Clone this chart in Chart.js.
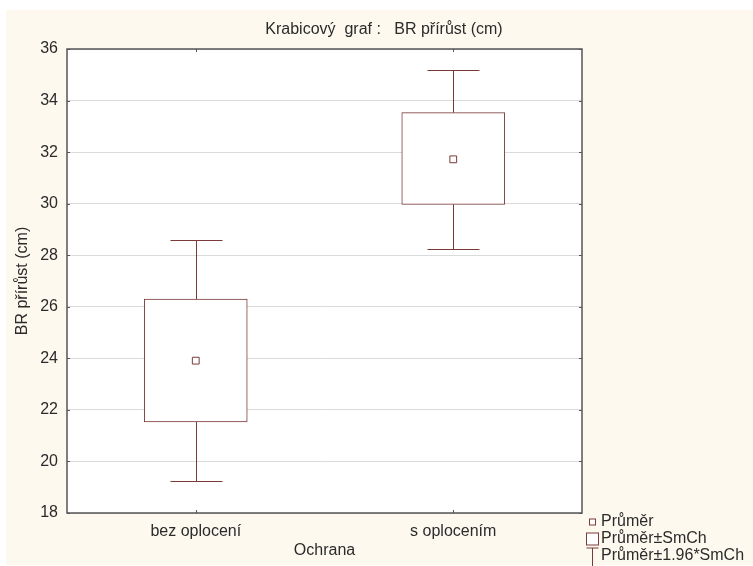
<!DOCTYPE html>
<html>
<head>
<meta charset="utf-8">
<script src="https://cdn.jsdelivr.net/npm/chart.js@4/dist/chart.umd.min.js"></script>
<style>
  html, body { margin: 0; padding: 0; background: #ffffff; }
  #wrap { width: 753px; height: 566px; }
</style>
</head>
<body>
<div id="wrap"><canvas id="c" width="753" height="566"></canvas></div>
<script>
// Groups and summary statistics of BR growth (cm)
const categories = ['bez oplocení', 's oplocením'];
const means  = [23.91, 31.72];   // Průměr
const seLow  = [21.53, 29.97];   // Průměr - SmCh
const seHigh = [26.30, 33.53];   // Průměr + SmCh
const ciLow  = [19.24, 28.23];   // Průměr - 1.96*SmCh
const ciHigh = [28.59, 35.20];   // Průměr + 1.96*SmCh
const yTicks = [18, 20, 22, 24, 26, 28, 30, 32, 34, 36];

const legendLabels = ['Průměr', 'Průměr±SmCh', 'Průměr±1.96*SmCh'];
const titleText = 'Krabicový  graf :   BR přírůst (cm)';

const BOX = '#7a3a3a';
const TXT = '#2b2b2b';
const FRAME = '#555555';
const FONT = 'Arial, "Liberation Sans", sans-serif';
const FS = 16;

const bgPlugin = {
  id: 'bg',
  beforeDraw(chart) {
    const { ctx, chartArea: a } = chart;
    ctx.save();
    ctx.fillStyle = '#ffffff';
    ctx.fillRect(0, 0, chart.width, chart.height);
    ctx.fillStyle = '#fdf9ee';
    ctx.fillRect(6, 10, chart.width - 6, 555);
    ctx.fillStyle = '#ffffff';
    ctx.fillRect(a.left, a.top, a.right - a.left, a.bottom - a.top);
    ctx.restore();
  }
};

const decorPlugin = {
  id: 'decor',
  afterDatasetsDraw(chart) {
    const { ctx, chartArea: a, scales: { x, y } } = chart;
    ctx.save();
    // whiskers: Průměr ± 1.96*SmCh
    ctx.strokeStyle = BOX;
    ctx.lineWidth = 1;
    const capHalf = 26;
    categories.forEach((c, i) => {
      const cx = Math.round(x.getPixelForValue(i)) + 0.5;
      const yTop = Math.round(y.getPixelForValue(ciHigh[i])) + 0.5;
      const yBot = Math.round(y.getPixelForValue(ciLow[i])) + 0.5;
      const bTop = y.getPixelForValue(seHigh[i]);
      const bBot = y.getPixelForValue(seLow[i]);
      ctx.beginPath();
      ctx.moveTo(cx, yTop); ctx.lineTo(cx, bTop);
      ctx.moveTo(cx, bBot); ctx.lineTo(cx, yBot);
      ctx.moveTo(cx - capHalf, yTop); ctx.lineTo(cx + capHalf, yTop);
      ctx.moveTo(cx - capHalf, yBot); ctx.lineTo(cx + capHalf, yBot);
      ctx.stroke();
    });
    // plot frame
    ctx.strokeStyle = FRAME;
    ctx.lineWidth = 1.5;
    ctx.strokeRect(a.left, a.top, a.right - a.left, a.bottom - a.top);
    // inner tick marks
    ctx.lineWidth = 1;
    ctx.beginPath();
    yTicks.forEach(v => {
      const py = Math.round(y.getPixelForValue(v)) + 0.5;
      ctx.moveTo(a.left, py); ctx.lineTo(a.left + 3, py);
      ctx.moveTo(a.right, py); ctx.lineTo(a.right - 3, py);
    });
    categories.forEach((c, i) => {
      const px = Math.round(x.getPixelForValue(i)) + 0.5;
      ctx.moveTo(px, a.top); ctx.lineTo(px, a.top + 3);
      ctx.moveTo(px, a.bottom); ctx.lineTo(px, a.bottom - 3);
    });
    ctx.stroke();
    ctx.restore();
  },
  afterDraw(chart) {
    const { ctx } = chart;
    ctx.save();
    ctx.fillStyle = TXT;
    ctx.font = FS + 'px ' + FONT;
    ctx.textBaseline = 'middle';
    // title
    ctx.textAlign = 'center';
    ctx.fillText(titleText, 384, 30);
    // legend
    ctx.textAlign = 'left';
    const lx = 592.5;
    const rows = [522, 539, 556];
    ctx.strokeStyle = BOX;
    ctx.lineWidth = 1;
    ctx.fillStyle = '#ffffff';
    ctx.fillRect(lx - 3, rows[0] - 3, 6, 6);
    ctx.strokeRect(lx - 3, rows[0] - 3, 6, 6);
    ctx.fillRect(lx - 6, rows[1] - 6, 12, 12);
    ctx.strokeRect(lx - 6, rows[1] - 6, 12, 12);
    ctx.beginPath();
    ctx.moveTo(lx - 6, rows[2] - 8); ctx.lineTo(lx + 6, rows[2] - 8);
    ctx.moveTo(lx, rows[2] - 8); ctx.lineTo(lx, rows[2] + 10);
    ctx.stroke();
    ctx.fillStyle = TXT;
    legendLabels.forEach((t, i) => ctx.fillText(t, 601, rows[i]));
    ctx.restore();
  }
};

new Chart(document.getElementById('c'), {
  type: 'bar',
  data: {
    labels: categories,
    datasets: [
      {
        type: 'line',
        label: legendLabels[0],
        data: means,
        showLine: false,
        pointStyle: 'rect',
        pointRadius: 4.8,
        pointBackgroundColor: '#ffffff',
        pointBorderColor: BOX,
        pointBorderWidth: 1,
        order: 0
      },
      {
        label: legendLabels[1],
        data: categories.map((c, i) => [seLow[i], seHigh[i]]),
        backgroundColor: '#ffffff',
        borderColor: BOX,
        borderWidth: 1,
        borderSkipped: false,
        barThickness: 103,
        order: 1
      }
    ]
  },
  options: {
    responsive: false,
    animation: false,
    devicePixelRatio: 1,
    layout: { padding: { left: 0, right: 171, top: 49, bottom: 0 } },
    plugins: {
      legend: { display: false },
      title: { display: false },
      tooltip: { enabled: false }
    },
    scales: {
      x: {
        offset: true,
        grid: { display: false, drawTicks: false },
        border: { display: false },
        ticks: { color: TXT, font: { family: FONT, size: FS }, padding: 9, maxRotation: 0 },
        title: { display: true, text: 'Ochrana', color: TXT, font: { family: FONT, size: FS }, padding: { top: 0, bottom: 6 } },
        afterFit(s) { s.height = 53; }
      },
      y: {
        min: 18,
        max: 36,
        afterBuildTicks(s) { s.ticks = yTicks.map(v => ({ value: v })); },
        grid: { color: '#dadada', drawTicks: false },
        border: { display: false },
        ticks: { color: TXT, font: { family: FONT, size: FS }, padding: 9 },
        title: { display: true, text: 'BR přírůst (cm)', color: TXT, font: { family: FONT, size: FS }, padding: { top: 13, bottom: 0 } },
        afterFit(s) { s.width = 67; }
      }
    }
  },
  plugins: [bgPlugin, decorPlugin]
});
</script>
</body>
</html>
